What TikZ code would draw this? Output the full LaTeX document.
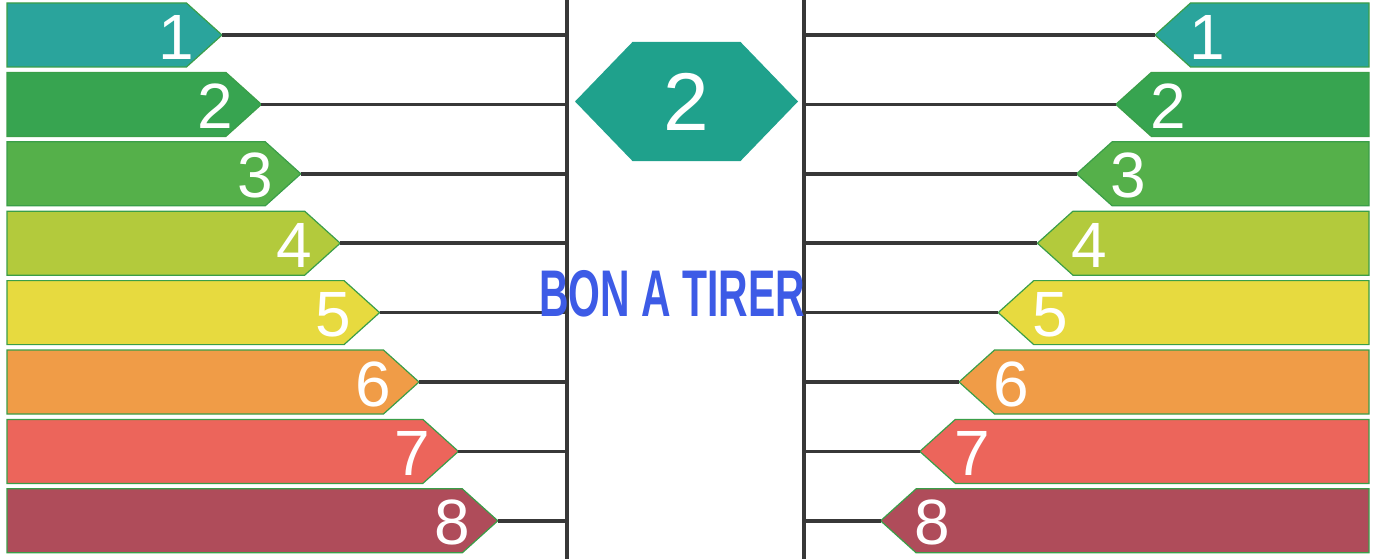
\documentclass[tikz,border=0pt]{standalone}
\usepackage{fontspec}
\setmainfont{Liberation Sans}
\newfontfamily\stampfont[FakeStretch=0.62]{Liberation Sans}
\usetikzlibrary{shapes.symbols}
\definecolor{cA}{HTML}{2AA49C}
\definecolor{cB}{HTML}{37A450}
\definecolor{cC}{HTML}{55B04A}
\definecolor{cD}{HTML}{B3CA3C}
\definecolor{cE}{HTML}{E7DA3F}
\definecolor{cF}{HTML}{F09C47}
\definecolor{cG}{HTML}{EC655B}
\definecolor{cH}{HTML}{AF4C5A}
\definecolor{hexa}{HTML}{1FA18C}
\definecolor{bord}{HTML}{3A9E48}
\definecolor{trait}{HTML}{383838}
\definecolor{tampon}{HTML}{3D5BE6}
\tikzset{
  barre/.style={signal, signal pointer angle=84, draw=bord, line width=1.2pt, fill=#1,
                minimum height=64pt, inner sep=0pt, outer sep=0pt},
  chiffre/.style={text=white, font=\fontsize{64}{64}\selectfont, inner sep=0pt},
  trait/.style={line width=3.6pt, draw=trait},
}
\begin{document}
\begin{tikzpicture}[x=1pt,y=-1pt]
  \useasboundingbox (0,0) rectangle (1380,559);
  % montants centraux
  \coordinate (gh) at (567,0); \coordinate (gb) at (567,559);
  \coordinate (dh) at (804,0); \coordinate (db) at (804,559);
  \draw[trait] (gh) -- (gb);
  \draw[trait] (dh) -- (db);
  % barres de classes
  \foreach \c [count=\i] in {cA,cB,cC,cD,cE,cF,cG,cH} {
    \pgfmathsetmacro\yc{35+69.4*(\i-1)}
    \pgfmathsetmacro\lw{222+39.4*(\i-1)-7}
    \pgfmathsetmacro\rw{1369-(1155-39.2*(\i-1))}
    \node[barre=\c, signal to=east, minimum width=\lw pt, anchor=west] (g\i) at (7,\yc) {};
    \node[barre=\c, signal to=west, minimum width=\rw pt, anchor=east] (d\i) at (1369,\yc) {};
    \node[chiffre] (ng\i) at ([xshift=-46pt,yshift=-2pt]g\i.east) {\i};
    \node[chiffre] (nd\i) at ([xshift=52pt,yshift=-2pt]d\i.west) {\i};
    \draw[trait] (g\i.east) -- (g\i.east -| gh);
    \draw[trait] (d\i.west) -- (d\i.west -| dh);
  }
  % classe retenue
  \node[signal, signal to=west and east, signal pointer angle=92, fill=hexa,
        minimum width=223pt, minimum height=119pt, inner sep=0pt, text=white,
        font=\fontsize{82}{82}\selectfont] (classe) at (686.5,101.5) {2};
  \node[text=tampon, font=\stampfont\bfseries\fontsize{66}{66}\selectfont,
        inner sep=0pt] (bat) at (672,294) {BON A TIRER};
\end{tikzpicture}
\end{document}
